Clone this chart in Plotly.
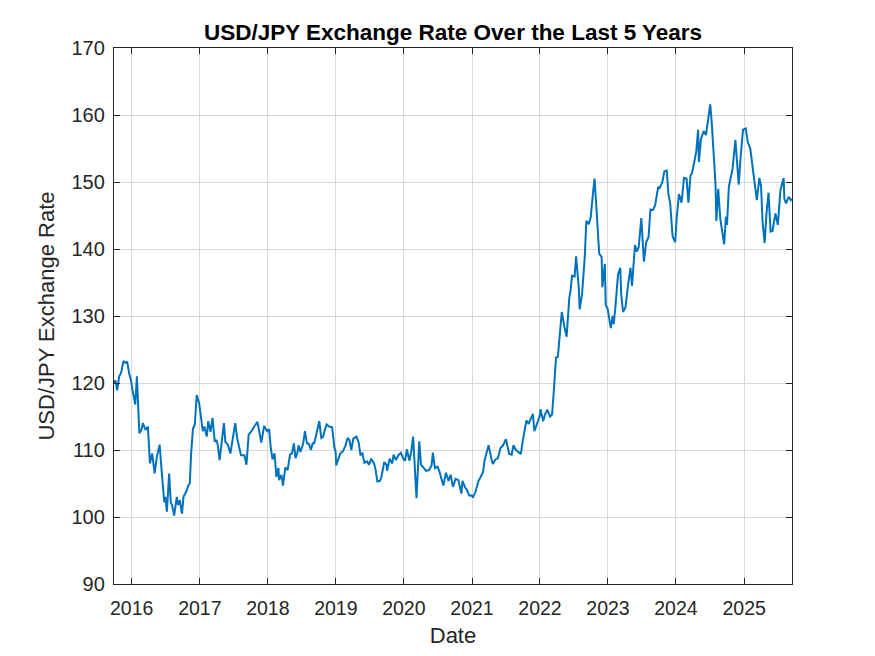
import plotly.graph_objects as go

dates = [
    # 2015
    "2015-09-28", "2015-10-06", "2015-10-15", "2015-10-26", "2015-11-05", "2015-11-18", "2015-11-30",
    "2015-12-08", "2015-12-18", "2015-12-28",
    # 2016
    "2016-01-05", "2016-01-20", "2016-01-29", "2016-02-05", "2016-02-11", "2016-02-22", "2016-03-01",
    "2016-03-15", "2016-03-28", "2016-04-01", "2016-04-08", "2016-04-20", "2016-04-28", "2016-05-03",
    "2016-05-15", "2016-05-30", "2016-06-10", "2016-06-16", "2016-06-24", "2016-06-30", "2016-07-08",
    "2016-07-20", "2016-07-29", "2016-08-05", "2016-08-16", "2016-08-30", "2016-09-06", "2016-09-15",
    "2016-09-27", "2016-10-05", "2016-10-20", "2016-10-31", "2016-11-08", "2016-11-15", "2016-11-25",
    "2016-12-05", "2016-12-15", "2016-12-28",
    # 2017
    "2017-01-05", "2017-01-17", "2017-01-25", "2017-02-07", "2017-02-15", "2017-02-27", "2017-03-10",
    "2017-03-22", "2017-03-31", "2017-04-07", "2017-04-17", "2017-04-28", "2017-05-10", "2017-05-18",
    "2017-05-31", "2017-06-14", "2017-06-26", "2017-07-10", "2017-07-20", "2017-07-31", "2017-08-10",
    "2017-08-28", "2017-09-08", "2017-09-20", "2017-10-05", "2017-10-20", "2017-11-06", "2017-11-15",
    "2017-11-27", "2017-12-12", "2017-12-28",
    # 2018
    "2018-01-08", "2018-01-16", "2018-01-26", "2018-02-06", "2018-02-16", "2018-02-27", "2018-03-02",
    "2018-03-15", "2018-03-23", "2018-04-05", "2018-04-17", "2018-04-30", "2018-05-10", "2018-05-21",
    "2018-05-29", "2018-06-08", "2018-06-15", "2018-06-25", "2018-07-10", "2018-07-19", "2018-07-30",
    "2018-08-10", "2018-08-20", "2018-08-30", "2018-09-07", "2018-09-20", "2018-10-04", "2018-10-15",
    "2018-10-25", "2018-11-05", "2018-11-13", "2018-11-26", "2018-12-12", "2018-12-24", "2018-12-31",
    # 2019
    "2019-01-03", "2019-01-10", "2019-01-25", "2019-02-08", "2019-02-22", "2019-03-05", "2019-03-15",
    "2019-03-25", "2019-04-05", "2019-04-22", "2019-05-03", "2019-05-13", "2019-05-24", "2019-06-03",
    "2019-06-18", "2019-06-28", "2019-07-10", "2019-07-25", "2019-08-01", "2019-08-12", "2019-08-26",
    "2019-09-03", "2019-09-18", "2019-09-30", "2019-10-03", "2019-10-17", "2019-10-31", "2019-11-07",
    "2019-11-20", "2019-12-02", "2019-12-16", "2019-12-31",
    # 2020
    "2020-01-08", "2020-01-17", "2020-01-31", "2020-02-10", "2020-02-20", "2020-02-28", "2020-03-09",
    "2020-03-24", "2020-04-02", "2020-04-15", "2020-04-30", "2020-05-15", "2020-05-29", "2020-06-05",
    "2020-06-16", "2020-06-30", "2020-07-10", "2020-07-31", "2020-08-14", "2020-08-28", "2020-09-08",
    "2020-09-21", "2020-10-05", "2020-10-20", "2020-11-05", "2020-11-11", "2020-11-25", "2020-12-04",
    "2020-12-17", "2020-12-31",
    # 2021
    "2021-01-06", "2021-01-20", "2021-02-05", "2021-02-17", "2021-03-01", "2021-03-10", "2021-03-31",
    "2021-04-15", "2021-04-23", "2021-05-07", "2021-05-20", "2021-06-03", "2021-06-17", "2021-07-02",
    "2021-07-20", "2021-08-02", "2021-08-11", "2021-08-25", "2021-09-09", "2021-09-20", "2021-09-30",
    "2021-10-15", "2021-10-20", "2021-11-01", "2021-11-24", "2021-12-02", "2021-12-15", "2021-12-31",
    # 2022
    "2022-01-04", "2022-01-18", "2022-01-28", "2022-02-10", "2022-02-24", "2022-03-07", "2022-03-16",
    "2022-03-28", "2022-04-07", "2022-04-20", "2022-04-28", "2022-05-12", "2022-05-24", "2022-06-07",
    "2022-06-15", "2022-06-22", "2022-07-06", "2022-07-14", "2022-07-28", "2022-08-02", "2022-08-15",
    "2022-08-29", "2022-09-07", "2022-09-20", "2022-09-30", "2022-10-14", "2022-10-21", "2022-10-28",
    "2022-11-10", "2022-11-15", "2022-11-28", "2022-12-02", "2022-12-15", "2022-12-20", "2022-12-30",
    # 2023
    "2023-01-16", "2023-01-26", "2023-02-01", "2023-02-10", "2023-02-24", "2023-03-08", "2023-03-13",
    "2023-03-23", "2023-04-05", "2023-04-19", "2023-05-02", "2023-05-10", "2023-05-26", "2023-06-05",
    "2023-06-15", "2023-06-29", "2023-07-13", "2023-07-25", "2023-08-07", "2023-08-17", "2023-08-30",
    "2023-09-11", "2023-09-28", "2023-10-03", "2023-10-19", "2023-10-31", "2023-11-13", "2023-11-21",
    "2023-12-01", "2023-12-14", "2023-12-28",
    # 2024
    "2024-01-05", "2024-01-17", "2024-01-31", "2024-02-13", "2024-02-27", "2024-03-08", "2024-03-19",
    "2024-03-27", "2024-04-10", "2024-04-19", "2024-04-29", "2024-05-03", "2024-05-14", "2024-05-29",
    "2024-06-10", "2024-06-20", "2024-06-28", "2024-07-03", "2024-07-11", "2024-07-17", "2024-07-24",
    "2024-07-31", "2024-08-05", "2024-08-15", "2024-08-26", "2024-09-06", "2024-09-16", "2024-09-25",
    "2024-10-01", "2024-10-11", "2024-10-22", "2024-10-31", "2024-11-15", "2024-11-26", "2024-12-03",
    "2024-12-13", "2024-12-26",
    # 2025
    "2025-01-10", "2025-01-20", "2025-02-03", "2025-02-14", "2025-02-27", "2025-03-10", "2025-03-24",
    "2025-04-02", "2025-04-10", "2025-04-21", "2025-05-01", "2025-05-12", "2025-05-23", "2025-06-02",
    "2025-06-18", "2025-07-01", "2025-07-15", "2025-08-01", "2025-08-05", "2025-08-14", "2025-08-28",
    "2025-09-08", "2025-09-15",
]

rates = [
    # 2015
    120.0, 120.4, 118.9, 121.0, 121.5, 123.3, 123.0,
    123.2, 121.5, 120.4,
    # 2016
    119.0, 116.8, 121.0, 117.0, 112.5, 113.0, 114.0,
    113.0, 113.5, 111.5, 108.0, 109.5, 108.0, 106.5,
    109.0, 110.8, 106.8, 104.2, 102.2, 103.0, 100.8,
    106.5, 102.1, 101.8, 100.2, 103.0, 101.8, 102.5,
    100.5, 103.0, 103.8, 104.7, 105.0, 109.5, 113.2,
    113.8, 118.2, 117.0,
    # 2017
    115.5, 112.8, 113.5, 112.0, 114.3, 112.7, 114.8,
    111.2, 111.5, 110.8, 108.5, 111.5, 114.0, 111.2,
    110.8, 109.5, 111.8, 114.0, 111.8, 110.3, 109.2,
    109.2, 107.8, 112.3, 112.8, 113.5, 114.2, 112.9,
    111.1, 113.6, 112.8,
    # 2018
    113.1, 110.5, 108.6, 109.5, 106.0, 107.3, 105.5,
    106.3, 104.7, 107.4, 107.0, 109.3, 109.5, 111.0,
    108.8, 109.5, 110.7, 109.7, 111.0, 112.8, 111.0,
    110.9, 110.0, 111.0, 111.0, 112.5, 114.3, 111.8,
    112.0, 113.2, 113.8, 113.5, 113.4, 110.4, 109.7,
    # 2019
    107.7, 108.4, 109.5, 109.8, 110.7, 111.8, 111.5,
    110.0, 111.7, 112.0, 111.2, 109.3, 109.5, 108.1,
    108.3, 107.8, 108.7, 108.0, 107.3, 105.3, 105.4,
    106.0, 108.2, 107.8, 106.9, 108.7, 108.0, 109.3,
    108.5, 109.2, 109.6, 108.6,
    # 2020
    108.4, 110.1, 108.4, 109.8, 112.0, 107.9, 102.8,
    111.3, 107.8, 107.4, 106.9, 107.0, 107.7, 109.6,
    107.3, 107.5, 106.8, 104.7, 106.6, 105.4, 106.3,
    104.5, 105.7, 105.5, 103.5, 105.4, 104.4, 104.1,
    103.2, 103.2,
    # 2021
    102.9, 103.8, 105.4, 106.0, 106.7, 108.5, 110.7,
    108.7, 107.9, 108.6, 108.8, 110.3, 110.7, 111.6,
    109.4, 109.3, 110.7, 110.0, 109.7, 109.4, 111.3,
    114.2, 114.4, 113.9, 115.4, 112.8, 114.0, 115.1,
    # 2022
    116.1, 114.3, 115.3, 116.0, 115.0, 115.3, 118.7,
    123.8, 123.9, 127.9, 130.6, 128.4, 126.9, 132.6,
    134.0, 136.0, 135.9, 138.9, 134.3, 131.0, 133.3,
    138.7, 144.2, 143.7, 144.7, 148.7, 150.5, 147.5,
    141.0, 139.3, 138.8, 134.3, 137.8, 131.6, 131.1,
    # 2023
    128.2, 130.0, 128.8, 131.4, 136.2, 137.2, 133.2,
    130.6, 131.3, 134.7, 137.2, 134.5, 140.6, 139.6,
    140.3, 144.6, 138.1, 141.0, 141.8, 145.9, 145.8,
    146.5, 149.3, 149.0, 149.9, 151.6, 151.7, 148.3,
    146.8, 141.9, 141.0,
    # 2024
    144.6, 148.2, 146.9, 150.6, 150.5, 146.9, 151.0,
    151.3, 153.2, 154.6, 157.8, 153.0, 156.4, 157.6,
    157.0, 158.8, 160.8, 161.6, 158.9, 156.2, 153.9,
    149.9, 144.2, 149.0, 144.5, 142.3, 140.7, 144.8,
    143.6, 149.3, 151.0, 152.0, 156.3, 151.1, 149.6,
    153.7, 157.8,
    # 2025
    158.0, 156.0, 155.0, 152.3, 149.8, 147.3, 150.6,
    149.4, 144.0, 140.9, 145.3, 148.4, 142.6, 142.7,
    145.3, 143.6, 148.8, 150.6, 147.5, 146.8, 147.8,
    147.3, 147.5,
]

x_range = ["2015-09-28", "2025-09-15"]
y_range = [90, 170]
year_ticks = ["2016-01-01", "2017-01-01", "2018-01-01", "2019-01-01", "2020-01-01",
              "2021-01-01", "2022-01-01", "2023-01-01", "2024-01-01", "2025-01-01"]
year_labels = ["2016", "2017", "2018", "2019", "2020", "2021", "2022", "2023", "2024", "2025"]

FONT = "Liberation Sans, Arial, Helvetica, sans-serif"
AX = "#262626"
GRID = "#d9d9d9"

fig = go.Figure()
fig.add_trace(go.Scatter(x=dates, y=rates, mode="lines",
                         line=dict(color="#0072BD", width=2), showlegend=False))

fig.update_layout(
    width=875, height=656,
    margin=dict(l=114, r=83, t=48, b=72),
    paper_bgcolor="white", plot_bgcolor="white",
    font=dict(family=FONT, color=AX, size=20),
    title=dict(text="<b>USD/JPY Exchange Rate Over the Last 5 Years</b>",
               x=0.5, xref="paper", xanchor="center",
               y=1 - 32 / 656, yref="container", yanchor="middle",
               font=dict(family=FONT, size=22.5, color="black")),
)
fig.update_xaxes(
    range=x_range, tickmode="array", tickvals=year_ticks, ticktext=year_labels,
    showgrid=True, gridcolor=GRID, gridwidth=1,
    showline=True, linecolor=AX, linewidth=1.4, mirror="ticks",
    ticks="inside", ticklen=6, tickcolor=AX, tickwidth=1,
    tickfont=dict(size=19.5, color=AX), zeroline=False, ticklabelstandoff=6,
    title=dict(text="Date", font=dict(size=22, color=AX), standoff=10),
)
fig.update_yaxes(
    range=y_range, dtick=10, tick0=90,
    showgrid=True, gridcolor=GRID, gridwidth=1,
    showline=True, linecolor=AX, linewidth=1.4, mirror="ticks",
    ticks="inside", ticklen=6, tickcolor=AX, tickwidth=1,
    tickfont=dict(size=20, color=AX), zeroline=False, ticklabelstandoff=4,
    title=dict(text="USD/JPY Exchange Rate", font=dict(size=22, color=AX), standoff=10),
)

fig.write_html("out.html")
